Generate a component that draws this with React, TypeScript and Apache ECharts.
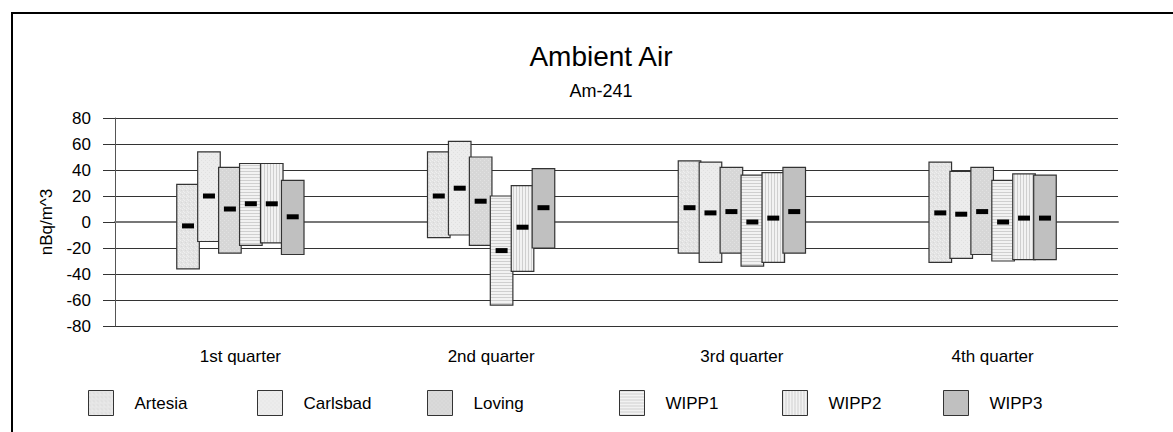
import React, { useEffect, useRef } from "react";
import * as echarts from "echarts";

const categories = ["1st quarter", "2nd quarter", "3rd quarter", "4th quarter"];
const stations = ["Artesia", "Carlsbad", "Loving", "WIPP1", "WIPP2", "WIPP3"];

const artesiaHigh = [29, 54, 47, 46];
const artesiaLow = [-36, -12, -24, -31];
const artesiaMean = [-3, 20, 11, 7];
const carlsbadHigh = [54, 62, 46, 39];
const carlsbadLow = [-15, -10, -31, -28];
const carlsbadMean = [20, 26, 7, 6];
const lovingHigh = [42, 50, 42, 42];
const lovingLow = [-24, -18, -24, -25];
const lovingMean = [10, 16, 8, 8];
const wipp1High = [45, 20, 36, 32];
const wipp1Low = [-18, -64, -34, -30];
const wipp1Mean = [14, -22, 0, 0];
const wipp2High = [45, 28, 38, 37];
const wipp2Low = [-16, -38, -31, -29];
const wipp2Mean = [14, -4, 3, 3];
const wipp3High = [32, 41, 42, 36];
const wipp3Low = [-25, -20, -24, -29];
const wipp3Mean = [4, 11, 8, 3];

const yTicks = { min: -80, max: 80, interval: 20 };

const stationData = [
  [artesiaLow, artesiaHigh, artesiaMean],
  [carlsbadLow, carlsbadHigh, carlsbadMean],
  [lovingLow, lovingHigh, lovingMean],
  [wipp1Low, wipp1High, wipp1Mean],
  [wipp2Low, wipp2High, wipp2Mean],
  [wipp3Low, wipp3High, wipp3Mean],
];

const FONT = "'Liberation Sans', Arial, sans-serif";

function makePattern(kind: number): any {
  const c = document.createElement("canvas");
  const n = kind === 3 || kind === 4 ? 3 : 4;
  c.width = n;
  c.height = n;
  const ctx = c.getContext("2d")!;
  const px = (x: number, y: number, col: string) => {
    ctx.fillStyle = col;
    ctx.fillRect(x, y, 1, 1);
  };
  if (kind === 0) {
    ctx.fillStyle = "#e3e3e3";
    ctx.fillRect(0, 0, n, n);
    px(0, 0, "#efefef");
    px(2, 1, "#efefef");
    px(1, 2, "#d8d8d8");
    px(3, 3, "#efefef");
  } else if (kind === 1) {
    ctx.fillStyle = "#ececec";
    ctx.fillRect(0, 0, n, n);
    px(1, 0, "#e0e0e0");
    px(3, 2, "#e0e0e0");
  } else if (kind === 2) {
    ctx.fillStyle = "#d7d7d7";
    ctx.fillRect(0, 0, n, n);
    px(0, 0, "#e2e2e2");
    px(2, 2, "#e2e2e2");
  } else if (kind === 3) {
    ctx.fillStyle = "#f2f2f2";
    ctx.fillRect(0, 0, n, n);
    ctx.fillStyle = "#cfcfcf";
    ctx.fillRect(0, 0, n, 1);
  } else if (kind === 4) {
    ctx.fillStyle = "#f2f2f2";
    ctx.fillRect(0, 0, n, n);
    ctx.fillStyle = "#cfcfcf";
    ctx.fillRect(0, 0, 1, n);
  }
  return { image: c, repeat: "repeat", imageWidth: n, imageHeight: n };
}

const legendLefts = [88, 257, 427, 619, 782, 943];

export default function App() {
  const ref = useRef<HTMLDivElement>(null);
  useEffect(() => {
    if (!ref.current) return;
    const chart = echarts.init(ref.current, undefined, { renderer: "svg" });
    const fills = stations.map((_, i) => (i === 5 ? "#c0c0c0" : makePattern(i)));

    const series = stations.map((name, si) => ({
      type: "custom",
      name,
      itemStyle: { color: fills[si], borderColor: "#333", borderWidth: 1 },
      encode: { x: 0, y: [1, 2, 3] },
      data: categories.map((_, ci) => [
        ci,
        stationData[si][0][ci],
        stationData[si][1][ci],
        stationData[si][2][ci],
      ]),
      renderItem: (params: any, api: any) => {
        const cat = api.value(0);
        const top = api.coord([cat, api.value(2)]);
        const bot = api.coord([cat, api.value(1)]);
        const m = api.coord([cat, api.value(3)]);
        const band = api.size([1, 0])[0];
        const step = band * 0.0835;
        const w = band * 0.09;
        const cx = top[0] + (si - 2.5) * step;
        return {
          type: "group",
          children: [
            {
              type: "rect",
              shape: { x: cx - w / 2, y: top[1], width: w, height: bot[1] - top[1] },
              style: { fill: fills[si], stroke: "#333", lineWidth: 1.2 },
            },
            {
              type: "rect",
              shape: { x: cx - 6, y: m[1] - 2.5, width: 12, height: 5 },
              style: { fill: "#000" },
            },
          ],
        };
      },
    }));

    const legends = stations.map((name, i) => ({
      data: [
        {
          name,
          icon: "rect",
          itemStyle: { color: fills[i], borderColor: "#333", borderWidth: 1 },
        },
      ],
      left: legendLefts[i],
      top: 390,
      padding: 0,
      itemWidth: 25,
      itemHeight: 25,
      selectedMode: false,
      textStyle: { fontSize: 17, color: "#000", fontFamily: FONT, padding: [0, 0, 0, 16] },
    }));

    chart.setOption({
      animation: false,
      backgroundColor: "#fff",
      textStyle: { fontFamily: FONT },
      grid: { left: 115, right: 55, top: 118, height: 208 },
      legend: legends,
      graphic: [
        {
          type: "rect",
          shape: { x: 12, y: 13, width: 1300, height: 600 },
          style: { fill: "none", stroke: "#000", lineWidth: 2 },
          silent: true,
          z: 100,
        },
        {
          type: "text",
          x: 601,
          y: 56,
          style: {
            text: "Ambient Air",
            fontSize: 28,
            fontFamily: FONT,
            fill: "#000",
            textAlign: "center",
            textVerticalAlign: "middle",
          },
        },
        {
          type: "text",
          x: 601,
          y: 91,
          style: {
            text: "Am-241",
            fontSize: 18,
            fontFamily: FONT,
            fill: "#000",
            textAlign: "center",
            textVerticalAlign: "middle",
          },
        },
      ],
      xAxis: {
        type: "category",
        data: categories,
        boundaryGap: true,
        axisLine: { show: true, lineStyle: { color: "#777", width: 2 } },
        axisTick: { show: true, alignWithLabel: true, length: 10, lineStyle: { color: "#555", width: 1 } },
        axisLabel: { fontSize: 17, color: "#000", fontFamily: FONT, margin: 22 },
        splitLine: { show: false },
      },
      yAxis: {
        type: "value",
        min: yTicks.min,
        max: yTicks.max,
        interval: yTicks.interval,
        name: "nBq/m^3",
        nameLocation: "middle",
        nameRotate: 90,
        nameGap: 60,
        nameTextStyle: { fontSize: 17, color: "#000", fontFamily: FONT },
        axisLine: { show: true, lineStyle: { color: "#555", width: 1 } },
        axisTick: { show: true, length: 12, lineStyle: { color: "#333", width: 1 } },
        axisLabel: { fontSize: 17, color: "#000", fontFamily: FONT, margin: 24 },
        splitLine: { show: true, lineStyle: { color: "#333", width: 1.2 } },
      },
      series,
    });
    return () => chart.dispose();
  }, []);
  return (
    <div
      ref={ref}
      style={{ position: "absolute", left: 0, top: 0, width: 1173, height: 432 }}
    />
  );
}
